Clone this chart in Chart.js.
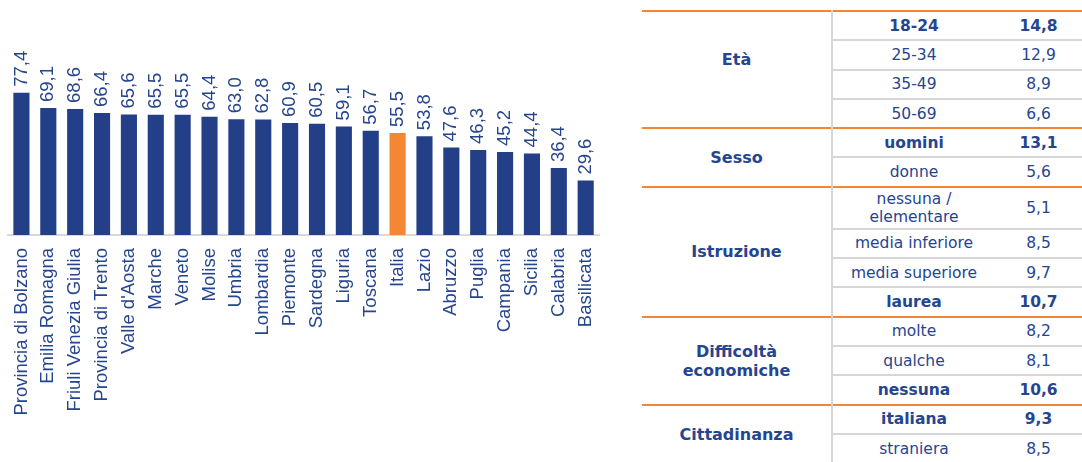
<!DOCTYPE html>
<html>
<head>
<meta charset="utf-8">
<script src="https://cdn.jsdelivr.net/npm/chart.js@4"></script>
<style>
  body { margin: 0; background: #fff; width: 1082px; height: 462px; overflow: hidden; position: relative; }
  #chart-wrap { position: absolute; left: 0; top: 0; width: 621px; height: 462px; }
  #tbl { position: absolute; left: 642px; top: 10px; width: 440px; border-collapse: collapse;
         font-family: "DejaVu Sans", Verdana, sans-serif; font-size: 15.5px; color: #26458f; }
  #tbl td { padding: 0; text-align: center; vertical-align: middle; }
  #tbl td.grp { width: 189px; font-weight: bold; font-size: 16px; border-right: 2px solid #d6d6d6; }
  #tbl td.sub { width: 162px; }
  #tbl td.val { width: 87px; }
  #tbl tr.first td { border-top: 2px solid #f58634; }
  #tbl tr.next td.sub, #tbl tr.next td.val { border-top: 2px solid #d6d6d6; }
  #tbl tr.bold td.sub, #tbl tr.bold td.val { font-weight: bold; }
</style>
</head>
<body>
<div id="chart-wrap"><canvas id="chart"></canvas></div>
<table id="tbl"></table>
<script>
// bar chart data
const regions = ['Provincia di Bolzano', 'Emilia Romagna', 'Friuli Venezia Giulia', 'Provincia di Trento',
  "Valle d'Aosta", 'Marche', 'Veneto', 'Molise', 'Umbria', 'Lombardia', 'Piemonte', 'Sardegna',
  'Liguria', 'Toscana', 'Italia', 'Lazio', 'Abruzzo', 'Puglia', 'Campania', 'Sicilia', 'Calabria', 'Basilicata'];
const shares = [77.4, 69.1, 68.6, 66.4, 65.6, 65.5, 65.5, 64.4, 63.0, 62.8, 60.9, 60.5,
  59.1, 56.7, 55.5, 53.8, 47.6, 46.3, 45.2, 44.4, 36.4, 29.6];

// table data
const groups = ['Età', 'Sesso', 'Istruzione', 'Difficoltà<br>economiche', 'Cittadinanza'];
const subLabels = [
  ['18-24', '25-34', '35-49', '50-69'],
  ['uomini', 'donne'],
  ['nessuna /<br>elementare', 'media inferiore', 'media superiore', 'laurea'],
  ['molte', 'qualche', 'nessuna'],
  ['italiana', 'straniera']
];
const subValues = [
  [14.8, 12.9, 8.9, 6.6],
  [13.1, 5.6],
  [5.1, 8.5, 9.7, 10.7],
  [8.2, 8.1, 10.6],
  [9.3, 8.5]
];
const boldRows = ['18-24', 'uomini', 'laurea', 'nessuna', 'italiana'];

const BLUE = '#233f88';
const ORANGE = '#f58634';
const TEXT = '#26458f';
const fmt = v => v.toFixed(1).replace('.', ',');

const valueLabels = {
  id: 'valueLabels',
  afterDatasetsDraw(chart) {
    const ctx = chart.ctx;
    const meta = chart.getDatasetMeta(0);
    ctx.save();
    ctx.font = '18.5px "Liberation Sans", Arial, sans-serif';
    ctx.fillStyle = TEXT;
    ctx.textAlign = 'left';
    ctx.textBaseline = 'middle';
    meta.data.forEach((bar, i) => {
      ctx.save();
      ctx.translate(bar.x, bar.y - 6);
      ctx.rotate(-Math.PI / 2);
      ctx.fillText(fmt(shares[i]), 0, 0);
      ctx.restore();
    });
    ctx.restore();
  }
};

new Chart(document.getElementById('chart'), {
  type: 'bar',
  data: {
    labels: regions,
    datasets: [{
      data: shares,
      backgroundColor: regions.map(r => r === 'Italia' ? ORANGE : BLUE),
      barPercentage: 0.6,
      categoryPercentage: 1.0,
    }]
  },
  options: {
    responsive: true,
    maintainAspectRatio: false,
    animation: false,
    layout: { padding: { top: 88, left: 8, right: 5, bottom: 0 } },
    plugins: { legend: { display: false }, tooltip: { enabled: false } },
    scales: {
      x: {
        grid: { drawOnChartArea: false, drawTicks: false },
        border: { display: true, color: '#d9d9d9', width: 2 },
        ticks: {
          color: TEXT,
          font: { family: '"Liberation Sans", Arial, sans-serif', size: 18.5 },
          minRotation: 90, maxRotation: 90,
          padding: 13,
          autoSkip: false,
        },
        afterFit(scale) { scale.height = 227; }
      },
      y: { display: false, min: 0, max: 80 }
    }
  },
  plugins: [valueLabels]
});

// build the table
const tbl = document.getElementById('tbl');
groups.forEach((g, gi) => {
  subLabels[gi].forEach((s, si) => {
    const tr = document.createElement('tr');
    tr.className = (si === 0 ? 'first' : 'next') + (boldRows.includes(s) ? ' bold' : '');
    tr.style.height = (s.includes('<br>') ? 42 : 29.3) + 'px';
    if (si === 0) {
      const td = document.createElement('td');
      td.className = 'grp';
      td.rowSpan = subLabels[gi].length;
      td.innerHTML = g;
      if (gi === 0) td.style.paddingBottom = '20px';
      tr.appendChild(td);
    }
    const tdS = document.createElement('td');
    tdS.className = 'sub';
    tdS.innerHTML = s;
    tr.appendChild(tdS);
    const tdV = document.createElement('td');
    tdV.className = 'val';
    tdV.textContent = fmt(subValues[gi][si]);
    tr.appendChild(tdV);
    tbl.appendChild(tr);
  });
});
</script>
</body>
</html>
